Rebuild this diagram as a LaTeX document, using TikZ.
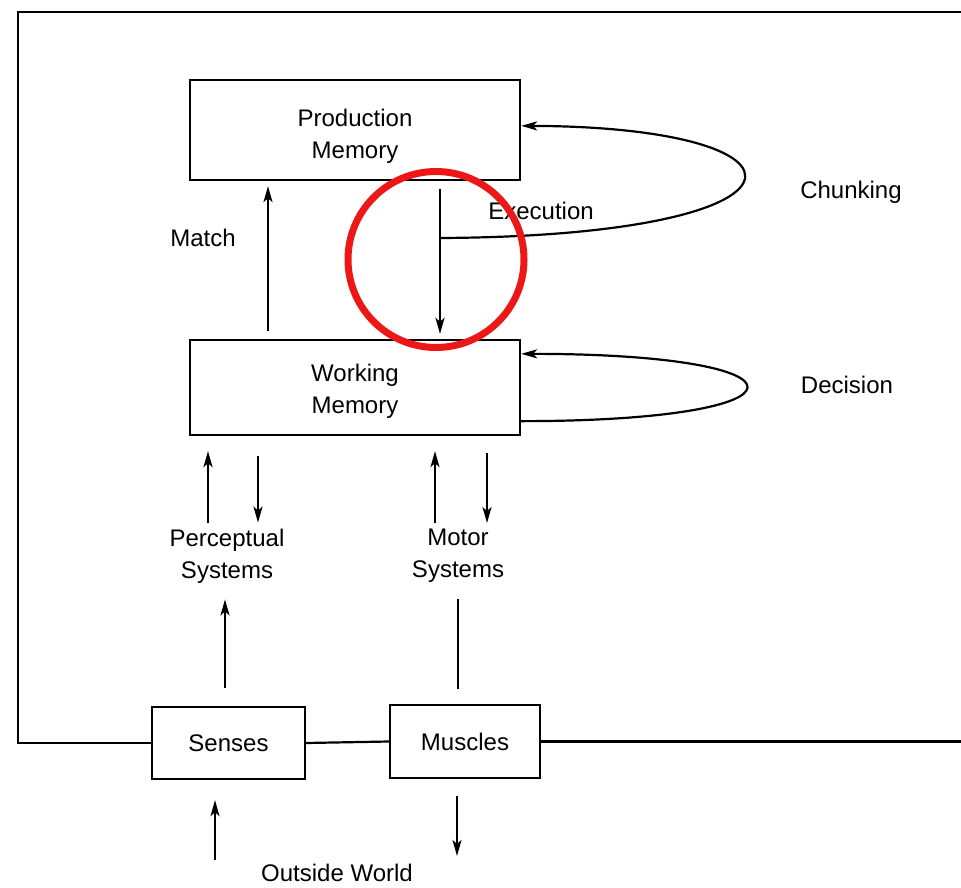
\documentclass[tikz,border=0pt]{standalone}
\usepackage{fontspec}
\setmainfont{Liberation Sans}
\usepackage{xcolor}
\usepackage{tikz}
\usetikzlibrary{arrows.meta,calc}
\definecolor{ink}{RGB}{0,0,0}
\definecolor{hilite}{RGB}{236,24,24}
\newcommand{\boxtext}[2]{\raisebox{#1}[0pt][0pt]{\begin{tabular}{@{}c@{}}#2\end{tabular}}}
\tikzset{
  box/.style={
    draw=ink, line width=2.3pt, minimum width=#1,
    align=center, font=\fontsize{24}{32}\selectfont, inner sep=0pt,
  },
  box/.default=330pt,
  lbl/.style={
    align=center, font=\fontsize{24}{32}\selectfont, text=ink, inner sep=0pt,
  },
  wire/.style={line width=2.2pt, draw=ink},
  arr/.style={-{Stealth[length=16pt,width=9pt,inset=4pt]}, line width=2.2pt, draw=ink},
}
\begin{document}
\begin{tikzpicture}[x=1pt,y=-1pt]
  \useasboundingbox (0,0) rectangle (961,888);

  % Memory boxes
  \node[box, minimum height=100pt] (pm) at (355,130) {\boxtext{-12pt}{Production\\Memory}};
  \node[box, minimum height=95pt] (wm) at (355,387.5) {\boxtext{-10pt}{Working\\Memory}};

  % Periphery boxes
  \node[box=153pt, minimum height=72pt] (senses) at (228.5,743) {Senses};
  \node[box=150pt, minimum height=73pt] (muscles) at (465,741.5) {Muscles};

  % Labels
  \node[lbl] (match) at (203,238) {Match};
  \node[lbl] (exec) at (541,211) {Execution};
  \node[lbl] (chunk) at (851,192) {Chunking};
  \node[lbl] (decide) at (847,385) {Decision};
  \node[lbl] (percep) at (227,556) {Perceptual\\Systems};
  \node[lbl] (motor) at (458,556) {Motor\\Systems};
  \node[lbl] (world) at (337,873) {Outside World};

  % Column positions
  \coordinate (mx) at (268,0);
  \coordinate (ex) at (440,0);
  \coordinate (pa) at (208,0);
  \coordinate (pb) at (258,0);
  \coordinate (ma) at (435,0);
  \coordinate (mb) at (487,0);
  \coordinate (sx) at (225,0);
  \coordinate (kx) at (458,0);
  \coordinate (ux) at (215,0);
  \coordinate (dx) at (457,0);
  \coordinate (cj) at (440,238);
  \coordinate (ftl) at (18,12);
  \coordinate (ftr) at (961,12);

  % Match / execution
  \draw[arr, shorten <=8pt, shorten >=5pt] (wm.north -| mx) -- (pm.south -| mx);
  \draw[arr, shorten <=8pt, shorten >=5pt] (pm.south -| ex) -- (wm.north -| ex);

  % Chunking and decision loops
  \draw[arr] (cj) .. controls (830,236) and (830,127) .. ($(pm.north east)+(0,47)$);
  \draw[arr] ($(wm.south east)+(0,-15)$) .. controls +(300,0) and +(300,0) .. ($(wm.north east)+(0,15)$);

  % Perceptual and motor systems
  \draw[arr, shorten <=6pt, shorten >=15pt] (percep.north -| pa) -- (wm.south -| pa);
  \draw[arr, shorten <=20pt, shorten >=6pt] (wm.south -| pb) -- (percep.north -| pb);
  \draw[arr, shorten <=6pt, shorten >=15pt] (motor.north -| ma) -- (wm.south -| ma);
  \draw[arr, shorten <=17pt, shorten >=6pt] (wm.south -| mb) -- (motor.north -| mb);
  \draw[arr, shorten <=18pt, shorten >=16pt] (senses.north -| sx) -- (percep.south -| sx);
  \draw[wire, shorten <=15pt, shorten >=16pt] (muscles.north -| kx) -- (motor.south -| kx);

  % Outside world
  \draw[arr, shorten <=4pt, shorten >=20pt] (world.north -| ux) -- (senses.south -| ux);
  \draw[arr, shorten <=17pt, shorten >=8pt] (muscles.south -| dx) -- (world.north -| dx);

  % Frame
  \draw[wire] (senses.west) -| (ftl) -- (ftr);
  \draw[wire] (senses.east) -- (muscles.west);
  \draw[wire] (muscles.east) -- (muscles.east -| ftr);

  % Highlight
  \draw[hilite, line width=7pt] (436,259.5) circle[radius=88pt];
\end{tikzpicture}
\end{document}
